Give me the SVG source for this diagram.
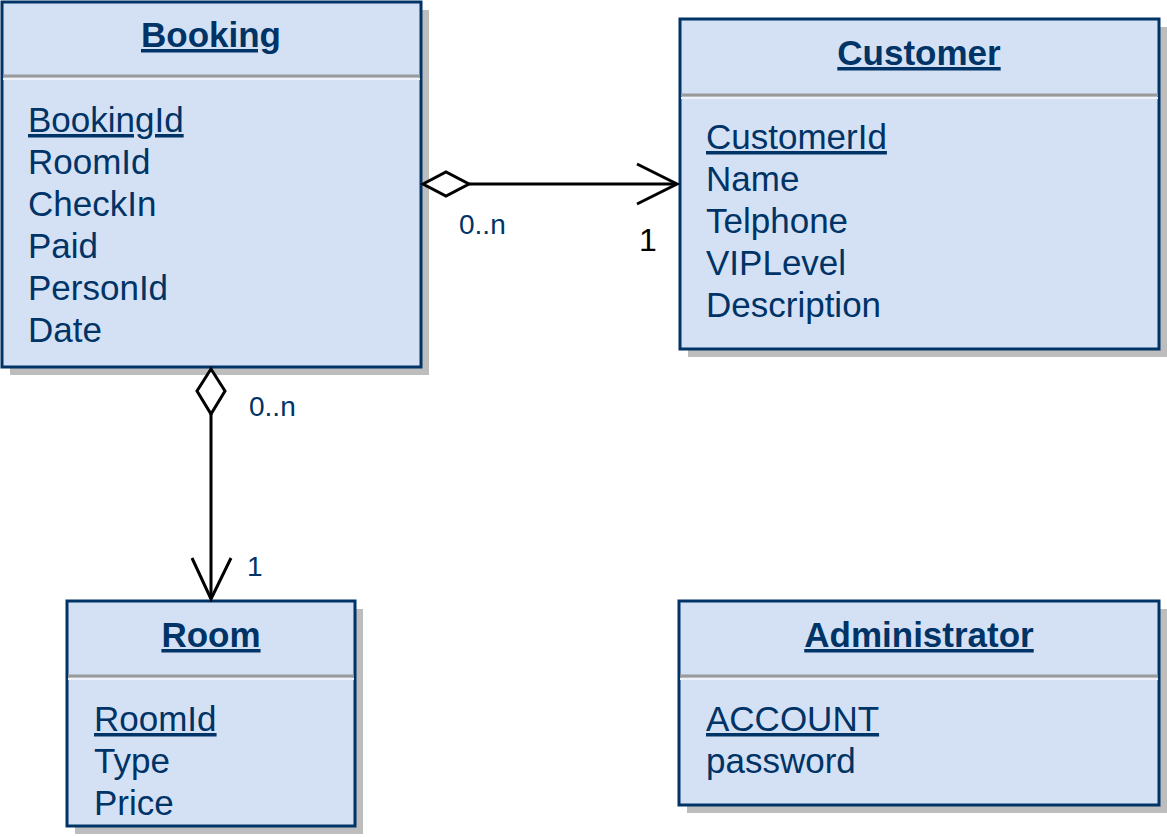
<svg xmlns="http://www.w3.org/2000/svg" width="1167" height="837" viewBox="0 0 1167 837">
<style>
.box{fill:#d4e1f5;stroke:#003366;stroke-width:3}
.shadow{fill:#bdbdbd}
.sep{stroke:#9a9a9a;stroke-width:3}
.sep2{stroke:#eef2f8;stroke-width:2}
.title{font-family:"Liberation Sans",Arial,sans-serif;font-size:35px;font-weight:bold;fill:#003366;text-anchor:middle;text-decoration:underline}
.attr{font-family:"Liberation Sans",Arial,sans-serif;font-size:35px;fill:#003366}
.u{text-decoration:underline}
.lbl{font-family:"Liberation Sans",Arial,sans-serif;font-size:28px;fill:#003366}
.lblk{font-family:"Liberation Sans",Arial,sans-serif;font-size:32px;fill:#000000}
.line{stroke:#000;stroke-width:3;fill:none}
.dia{stroke:#000;stroke-width:3;fill:#ffffff}
</style>
<rect width="1167" height="837" fill="#ffffff"/>
<g id="Booking">
<rect class="shadow" x="10" y="10" width="419" height="365"/>
<rect class="box" x="2" y="2" width="419" height="365"/>
<line class="sep" x1="3" y1="76" x2="420" y2="76"/>
<line class="sep2" x1="3" y1="79" x2="420" y2="79"/>
<text class="title" x="211" y="47">Booking</text>
<text class="attr u" x="28" y="132">BookingId</text>
<text class="attr" x="28" y="174">RoomId</text>
<text class="attr" x="28" y="216">CheckIn</text>
<text class="attr" x="28" y="258">Paid</text>
<text class="attr" x="28" y="300">PersonId</text>
<text class="attr" x="28" y="342">Date</text>
</g>
<g id="Customer">
<rect class="shadow" x="688" y="27" width="479" height="330"/>
<rect class="box" x="680" y="19" width="479" height="330"/>
<line class="sep" x1="681" y1="95" x2="1158" y2="95"/>
<line class="sep2" x1="681" y1="98" x2="1158" y2="98"/>
<text class="title" x="919" y="65">Customer</text>
<text class="attr u" x="706" y="149">CustomerId</text>
<text class="attr" x="706" y="191">Name</text>
<text class="attr" x="706" y="233">Telphone</text>
<text class="attr" x="706" y="275">VIPLevel</text>
<text class="attr" x="706" y="317">Description</text>
</g>
<g id="Room">
<rect class="shadow" x="75" y="609" width="288" height="225"/>
<rect class="box" x="67" y="601" width="288" height="225"/>
<line class="sep" x1="68" y1="676" x2="354" y2="676"/>
<line class="sep2" x1="68" y1="679" x2="354" y2="679"/>
<text class="title" x="211" y="647">Room</text>
<text class="attr u" x="94" y="731">RoomId</text>
<text class="attr" x="94" y="773">Type</text>
<text class="attr" x="94" y="815">Price</text>
</g>
<g id="Administrator">
<rect class="shadow" x="687" y="609" width="480" height="204"/>
<rect class="box" x="679" y="601" width="480" height="204"/>
<line class="sep" x1="680" y1="676" x2="1158" y2="676"/>
<line class="sep2" x1="680" y1="679" x2="1158" y2="679"/>
<text class="title" x="919" y="647">Administrator</text>
<text class="attr u" x="706" y="731">ACCOUNT</text>
<text class="attr" x="706" y="773">password</text>
</g>
<g id="connectors">
<line class="line" x1="469" y1="184" x2="677" y2="184"/>
<polygon class="dia" points="423,184 446,172 469,184 446,196"/>
<polyline class="line" points="637,164 677,184 637,204"/>
<text class="lbl" x="459" y="234">0..n</text>
<text class="lblk" x="639" y="251">1</text>
<line class="line" x1="211" y1="414" x2="211" y2="599"/>
<polygon class="dia" points="211,369 225,391 211,414 197,391"/>
<polyline class="line" points="192,558 211,599 231,558"/>
<text class="lbl" x="249" y="416">0..n</text>
<text class="lbl" x="247" y="576">1</text>
</g>
</svg>
